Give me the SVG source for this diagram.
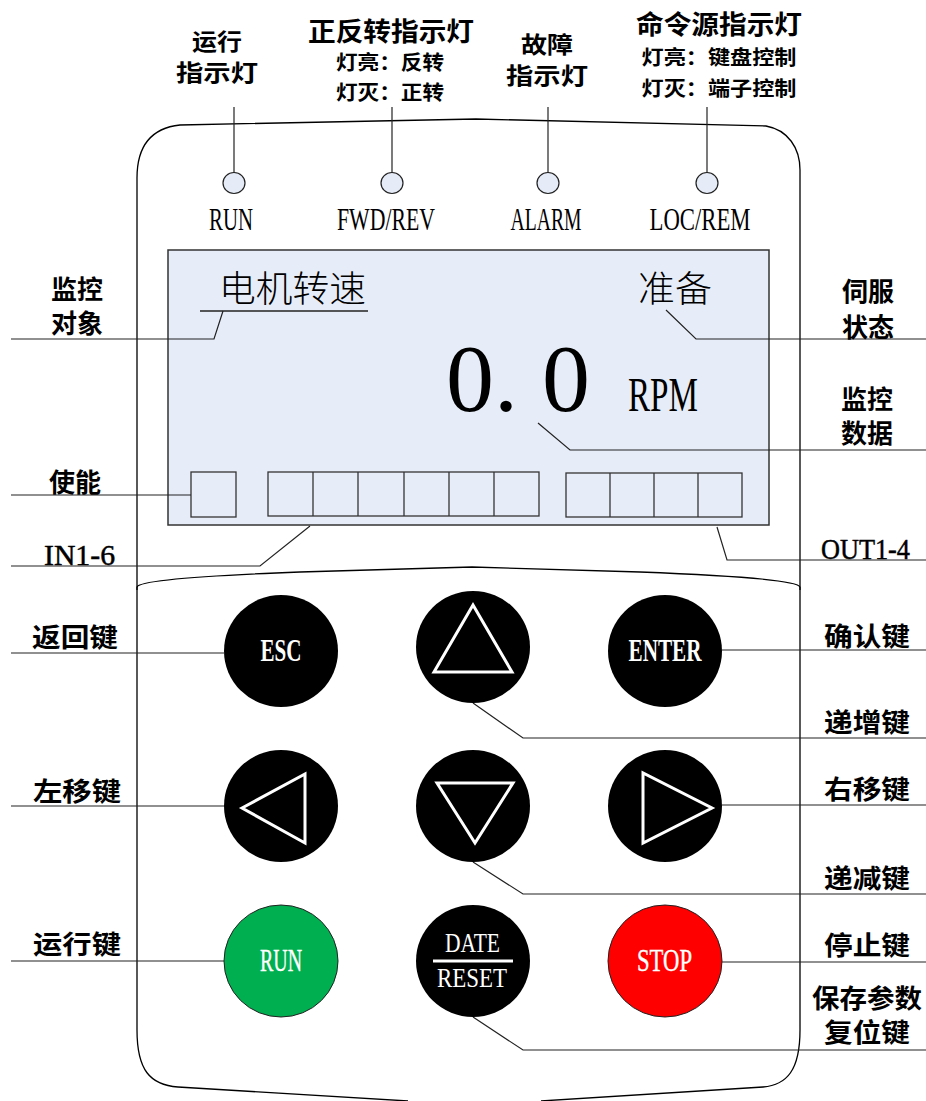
<svg xmlns="http://www.w3.org/2000/svg" width="926" height="1101" viewBox="0 0 926 1101">
<style>
.lbl{font-family:"Noto Sans CJK SC","Noto Sans",sans-serif;font-weight:700;font-size:26px;fill:#000;text-anchor:middle}
.top2{font-family:"Noto Sans CJK SC","Noto Sans",sans-serif;font-weight:700;font-size:23px;fill:#000;text-anchor:middle}
.sub{font-family:"Noto Sans CJK SC","Noto Sans",sans-serif;font-weight:700;font-size:20px;fill:#000;text-anchor:middle}
.ser{font-family:"Liberation Serif","Times New Roman",serif;fill:#000;text-anchor:middle}
.lcdcn{font-family:"Noto Sans CJK SC","Noto Sans",sans-serif;font-weight:300;font-size:36px;fill:#000}
.btn{font-family:"Liberation Serif","Times New Roman",serif;fill:#fff;text-anchor:middle}
.ln{fill:none;stroke:#222;stroke-width:1.2}
.house{fill:none;stroke:#000;stroke-width:1.3}
.led{fill:#e6ecf7;stroke:#222;stroke-width:1.2}
.box{fill:none;stroke:#333;stroke-width:1.3}
.tri{fill:none;stroke:#fff;stroke-width:3;stroke-linejoin:miter}
</style>

<g id="housing">
<path class="house" d="M137,590 L137,178 C137,145 152,128 180,125 L476,119 L766,126 C788,130 800,148 800,170 L800,590"/>
<path class="house" d="M137,587 Q140,578 300,572 L472,567 L640,572 Q797,578 800,587"/>
<path class="house" d="M137,587 L137,1030 C137,1070 150,1085 178,1087 L408,1101"/>
<path class="house" d="M800,587 L800,1030 C800,1070 787,1085 763,1087 L541,1101"/>
</g>

<g id="led-run"><ellipse class="led" cx="234" cy="183" rx="11" ry="10.5"/><text class="ser" x="231" y="230" font-size="31" textLength="44" lengthAdjust="spacingAndGlyphs">RUN</text></g>
<g id="led-fwdrev"><ellipse class="led" cx="392" cy="183" rx="11" ry="10.5"/><text class="ser" x="386" y="230" font-size="31" textLength="98" lengthAdjust="spacingAndGlyphs">FWD/REV</text></g>
<g id="led-alarm"><ellipse class="led" cx="548" cy="183" rx="11" ry="10.5"/><text class="ser" x="546" y="230" font-size="31" textLength="71" lengthAdjust="spacingAndGlyphs">ALARM</text></g>
<g id="led-locrem"><ellipse class="led" cx="707" cy="183" rx="11" ry="10.5"/><text class="ser" x="700" y="230" font-size="31" textLength="101" lengthAdjust="spacingAndGlyphs">LOC/REM</text></g>

<g id="lcd">
<rect x="168" y="250" width="601" height="275" fill="#e7edf8" stroke="#333" stroke-width="1.5"/>
<text class="lcdcn" x="219" y="302" textLength="147" lengthAdjust="spacingAndGlyphs">电机转速</text>
<line x1="200" y1="311" x2="368" y2="311" stroke="#222" stroke-width="1.3"/>
<text class="lcdcn" x="638" y="302" textLength="74" lengthAdjust="spacingAndGlyphs">准备</text>
<text x="446" y="411" font-family="Liberation Serif,Times New Roman,serif" font-size="96" fill="#000">0. 0</text>
<text x="628" y="411" font-family="Liberation Serif,Times New Roman,serif" font-size="48" fill="#000" textLength="70" lengthAdjust="spacingAndGlyphs">RPM</text>
<rect class="box" x="191" y="472" width="45" height="45"/>
<rect class="box" x="268" y="472" width="271" height="44"/>
<line class="box" x1="313" y1="472" x2="313" y2="516"/>
<line class="box" x1="358" y1="472" x2="358" y2="516"/>
<line class="box" x1="404" y1="472" x2="404" y2="516"/>
<line class="box" x1="449" y1="472" x2="449" y2="516"/>
<line class="box" x1="494" y1="472" x2="494" y2="516"/>
<rect class="box" x="566" y="473" width="176" height="44"/>
<line class="box" x1="610" y1="473" x2="610" y2="517"/>
<line class="box" x1="654" y1="473" x2="654" y2="517"/>
<line class="box" x1="698" y1="473" x2="698" y2="517"/>
</g>

<g id="connectors">
<line class="ln" x1="234" y1="107" x2="234" y2="173"/>
<line class="ln" x1="392" y1="107" x2="392" y2="173"/>
<line class="ln" x1="548" y1="107" x2="548" y2="173"/>
<line class="ln" x1="707" y1="107" x2="707" y2="173"/>
<polyline class="ln" points="11,339 214,339 223,311"/>
<polyline class="ln" points="926,339 696,339 666,310"/>
<polyline class="ln" points="926,450 570,450 538,423"/>
<line class="ln" x1="11" y1="495" x2="191" y2="495"/>
<polyline class="ln" points="11,566 260,566 310,526"/>
<polyline class="ln" points="926,560 727,560 717,527"/>
<line class="ln" x1="11" y1="653" x2="224" y2="653"/>
<line class="ln" x1="722" y1="650" x2="926" y2="650"/>
<polyline class="ln" points="473,703 523,738 926,738"/>
<line class="ln" x1="11" y1="806" x2="224" y2="806"/>
<line class="ln" x1="722" y1="805" x2="926" y2="805"/>
<polyline class="ln" points="473,862 523,894 926,894"/>
<line class="ln" x1="11" y1="961" x2="224" y2="961"/>
<line class="ln" x1="722" y1="962" x2="926" y2="962"/>
<polyline class="ln" points="473,1017 523,1050 926,1050"/>
</g>

<g id="label-run-led">
<text class="top2" x="217" y="50" textLength="50" lengthAdjust="spacingAndGlyphs">运行</text>
<text class="top2" x="217" y="81" textLength="82" lengthAdjust="spacingAndGlyphs">指示灯</text>
</g>
<g id="label-fwdrev-led">
<text class="lbl" x="391" y="41" textLength="166" lengthAdjust="spacingAndGlyphs">正反转指示灯</text>
<text class="sub" x="390" y="70" textLength="108" lengthAdjust="spacingAndGlyphs">灯亮：反转</text>
<text class="sub" x="390" y="100" textLength="108" lengthAdjust="spacingAndGlyphs">灯灭：正转</text>
</g>
<g id="label-alarm-led">
<text class="top2" x="547" y="53" textLength="52" lengthAdjust="spacingAndGlyphs">故障</text>
<text class="top2" x="547" y="84" textLength="82" lengthAdjust="spacingAndGlyphs">指示灯</text>
</g>
<g id="label-locrem-led">
<text class="lbl" x="719" y="34" textLength="166" lengthAdjust="spacingAndGlyphs">命令源指示灯</text>
<text class="sub" x="719" y="65" textLength="155" lengthAdjust="spacingAndGlyphs">灯亮：键盘控制</text>
<text class="sub" x="719" y="96" textLength="155" lengthAdjust="spacingAndGlyphs">灯灭：端子控制</text>
</g>

<g id="label-monitor-object"><text class="lbl" x="77" y="299">监控</text><text class="lbl" x="77" y="333">对象</text></g>
<g id="label-servo-state"><text class="lbl" x="868" y="301">伺服</text><text class="lbl" x="868" y="337">状态</text></g>
<g id="label-monitor-data"><text class="lbl" x="867" y="409">监控</text><text class="lbl" x="867" y="443">数据</text></g>
<g id="label-enable"><text class="lbl" x="75" y="492">使能</text></g>
<g id="label-in"><text class="ser" x="79.5" y="565" font-size="30" stroke="#000" stroke-width="0.5" textLength="71" lengthAdjust="spacingAndGlyphs">IN1-6</text></g>
<g id="label-out"><text class="ser" x="865.5" y="559" font-size="30" stroke="#000" stroke-width="0.5" textLength="89" lengthAdjust="spacingAndGlyphs">OUT1-4</text></g>

<g id="btn-esc"><ellipse cx="281" cy="651" rx="57" ry="56" fill="#000"/><text class="btn" x="281" y="661" font-size="32" font-weight="700" textLength="41" lengthAdjust="spacingAndGlyphs">ESC</text></g>
<g id="btn-up"><ellipse cx="473" cy="647" rx="57" ry="56" fill="#000"/><polygon class="tri" points="473,605 434,672 512,672"/></g>
<g id="btn-enter"><ellipse cx="665" cy="651" rx="57" ry="56" fill="#000"/><text class="btn" x="665" y="661" font-size="32" font-weight="700" textLength="73" lengthAdjust="spacingAndGlyphs">ENTER</text></g>
<g id="btn-left"><ellipse cx="281" cy="806" rx="57" ry="56" fill="#000"/><polygon class="tri" points="242,808 305,774 305,843"/></g>
<g id="btn-down"><ellipse cx="473" cy="806" rx="57" ry="56" fill="#000"/><polygon class="tri" points="437,783 513,783 475,843"/></g>
<g id="btn-right"><ellipse cx="665" cy="806" rx="57" ry="56" fill="#000"/><polygon class="tri" points="643,773 643,843 712,808"/></g>
<g id="btn-run"><ellipse cx="281" cy="961" rx="57" ry="56" fill="#00b050" stroke="#222" stroke-width="1"/><text class="btn" x="281" y="971" font-size="32" stroke="#fff" stroke-width="0.4" textLength="42" lengthAdjust="spacingAndGlyphs">RUN</text></g>
<g id="btn-date"><ellipse cx="473" cy="961" rx="57" ry="56" fill="#000"/><text class="btn" x="472.5" y="952" font-size="27" textLength="55" lengthAdjust="spacingAndGlyphs">DATE</text><rect x="433" y="959.5" width="80" height="3" fill="#fff"/><text class="btn" x="472" y="987" font-size="27" textLength="70" lengthAdjust="spacingAndGlyphs">RESET</text></g>
<g id="btn-stop"><ellipse cx="665" cy="961" rx="57" ry="56" fill="#ff0000" stroke="#222" stroke-width="1"/><text class="btn" x="664.5" y="971" font-size="32" stroke="#fff" stroke-width="0.4" textLength="55" lengthAdjust="spacingAndGlyphs">STOP</text></g>

<g id="label-esc"><text class="lbl" x="75" y="647" textLength="86" lengthAdjust="spacingAndGlyphs">返回键</text></g>
<g id="label-enter"><text class="lbl" x="867" y="646" textLength="86" lengthAdjust="spacingAndGlyphs">确认键</text></g>
<g id="label-up"><text class="lbl" x="867" y="732" textLength="86" lengthAdjust="spacingAndGlyphs">递增键</text></g>
<g id="label-left"><text class="lbl" x="77" y="801" textLength="88" lengthAdjust="spacingAndGlyphs">左移键</text></g>
<g id="label-right"><text class="lbl" x="867" y="799" textLength="86" lengthAdjust="spacingAndGlyphs">右移键</text></g>
<g id="label-down"><text class="lbl" x="867" y="888" textLength="86" lengthAdjust="spacingAndGlyphs">递减键</text></g>
<g id="label-run"><text class="lbl" x="77" y="954" textLength="88" lengthAdjust="spacingAndGlyphs">运行键</text></g>
<g id="label-stop"><text class="lbl" x="867" y="955" textLength="86" lengthAdjust="spacingAndGlyphs">停止键</text></g>
<g id="label-date"><text class="lbl" x="867" y="1008" textLength="110" lengthAdjust="spacingAndGlyphs">保存参数</text><text class="lbl" x="867" y="1042" textLength="86" lengthAdjust="spacingAndGlyphs">复位键</text></g>
</svg>
